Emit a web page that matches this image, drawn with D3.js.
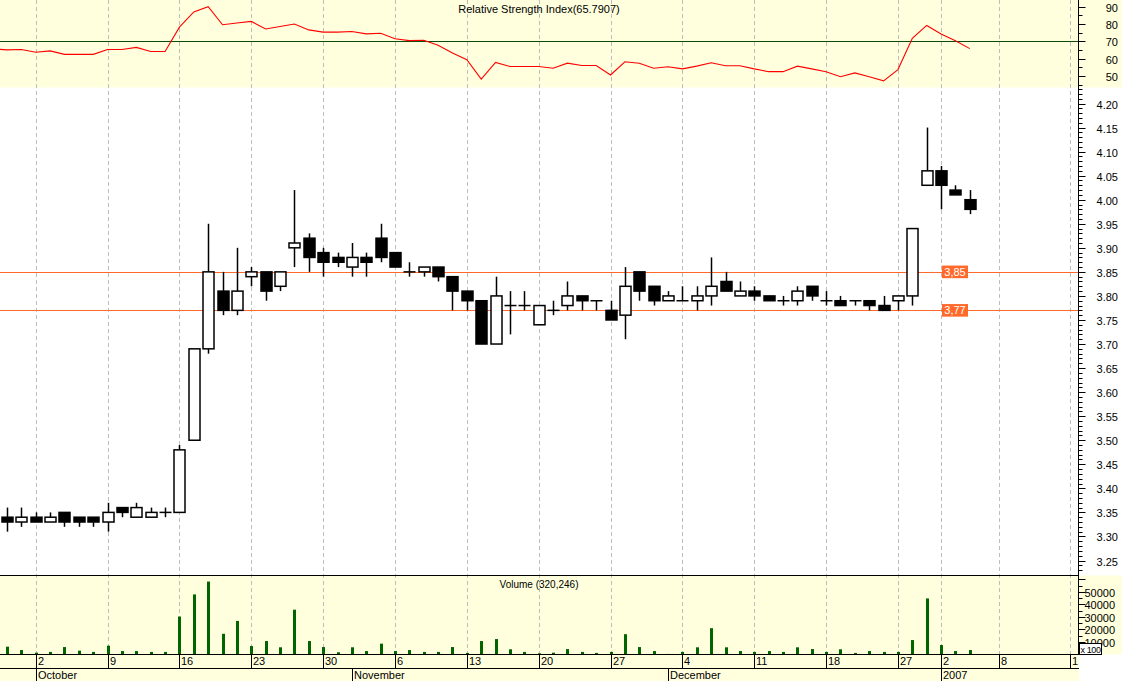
<!DOCTYPE html>
<html><head><meta charset="utf-8">
<script src="https://cdn.jsdelivr.net/npm/d3@7"></script>
<style>
body{margin:0;background:#fff}
svg{display:block}
text{font-family:"Liberation Sans",Arial,sans-serif;fill:#000}
</style>
</head><body>
<svg id="chart" width="1122" height="681"></svg>
<script>
// ---------- data ----------
const dates = ["2006-09-28","2006-09-29","2006-10-02","2006-10-03","2006-10-04","2006-10-05","2006-10-06",
"2006-10-09","2006-10-10","2006-10-11","2006-10-12","2006-10-13","2006-10-16","2006-10-17","2006-10-18","2006-10-19","2006-10-20",
"2006-10-23","2006-10-24","2006-10-25","2006-10-26","2006-10-27","2006-10-30","2006-10-31","2006-11-01","2006-11-02","2006-11-03",
"2006-11-06","2006-11-07","2006-11-08","2006-11-09","2006-11-10","2006-11-13","2006-11-14","2006-11-15","2006-11-16","2006-11-17",
"2006-11-20","2006-11-21","2006-11-22","2006-11-23","2006-11-24","2006-11-27","2006-11-28","2006-11-29","2006-11-30","2006-12-01",
"2006-12-04","2006-12-05","2006-12-06","2006-12-07","2006-12-08","2006-12-11","2006-12-12","2006-12-13","2006-12-14","2006-12-15",
"2006-12-18","2006-12-19","2006-12-20","2006-12-21","2006-12-22","2006-12-27","2006-12-28","2006-12-29",
"2007-01-02","2007-01-03","2007-01-04"];
const futureDays = ["2007-01-05","2007-01-08","2007-01-09","2007-01-10","2007-01-11","2007-01-12","2007-01-15"];

const open  = [3.34,3.33,3.34,3.33,3.35,3.34,3.34, 3.33,3.36,3.34,3.34,3.35, 3.35,3.50,3.69,3.81,3.77,
3.84,3.85,3.82,3.90,3.92, 3.89,3.88,3.86,3.88,3.92, 3.89,3.85,3.85,3.86,3.84, 3.81,3.79,3.70,3.78,3.78,
3.74,3.77,3.78,3.80,3.79, 3.77,3.76,3.85,3.82,3.79, 3.79,3.79,3.80,3.83,3.80, 3.81,3.80,3.79,3.79,3.82,
3.79,3.79,3.79,3.79,3.78, 3.79,3.80,4.03, 4.06,4.02,4.00];
const high  = [3.36,3.36,3.35,3.35,3.35,3.34,3.34, 3.37,3.36,3.37,3.36,3.36, 3.49,3.69,3.95,3.85,3.90,
3.86,3.85,3.85,4.02,3.93, 3.90,3.89,3.91,3.89,3.95, 3.89,3.87,3.86,3.86,3.84, 3.81,3.79,3.84,3.81,3.81,
3.78,3.79,3.83,3.80,3.79, 3.79,3.86,3.85,3.82,3.81, 3.82,3.82,3.88,3.85,3.83, 3.82,3.80,3.80,3.82,3.82,
3.81,3.80,3.79,3.79,3.80, 3.80,3.94,4.15, 4.07,4.03,4.02];
const low   = [3.31,3.32,3.33,3.33,3.32,3.32,3.32, 3.31,3.34,3.34,3.34,3.34, 3.35,3.50,3.68,3.76,3.76,
3.82,3.79,3.81,3.86,3.85, 3.84,3.86,3.84,3.84,3.87, 3.86,3.84,3.84,3.83,3.77, 3.77,3.70,3.70,3.72,3.77,
3.74,3.76,3.77,3.77,3.77, 3.75,3.71,3.79,3.78,3.79, 3.79,3.77,3.78,3.81,3.80, 3.79,3.79,3.78,3.78,3.79,
3.78,3.78,3.78,3.77,3.77, 3.77,3.78,4.03, 3.98,4.01,3.97];
const close = [3.33,3.34,3.33,3.34,3.33,3.33,3.33, 3.35,3.35,3.36,3.35,3.35, 3.48,3.69,3.85,3.77,3.81,
3.85,3.81,3.85,3.91,3.88, 3.87,3.87,3.88,3.87,3.88, 3.86,3.85,3.86,3.84,3.81, 3.79,3.70,3.80,3.78,3.78,
3.78,3.77,3.80,3.79,3.79, 3.75,3.82,3.81,3.79,3.80, 3.79,3.80,3.82,3.81,3.81, 3.80,3.79,3.79,3.81,3.80,
3.79,3.78,3.79,3.78,3.77, 3.80,3.94,4.06, 4.03,4.01,3.98];
const volume = [6100,3400,1300,1900,5800,2900,1900, 6900,2600,2600,1900,1900, 30200,47900,58200,16400,26700,
6600,10600,5600,35700,10600, 5800,1600,5600,2600,8500, 2600,3400,1900,1900,5800, 1100,10600,12200,4000,1900,
800,1300,4200,1900,1100, 1900,16100,5800,2600,300, 1900,5600,20900,5600,2600, 1900,2600,1900,5600,4200,
1900,4000,1100,2600,1900, 1900,11400,44700, 7400,2600,3400];
// RSI of the session before the first visible candle (2006-09-27), then one value per candle
const rsiPrevious = 65.6;
const rsi = [65.1,65.3,63.7,64.5,62.5,62.5,62.5, 65.3,65.3,66.5,64.1,64.1, 78.2,87.0,90.0,79.6,80.6,
81.5,77.1,78.6,80.0,76.6, 75.3,75.3,75.7,74.3,74.7, 71.5,70.4,70.6,67.8,63.3, 59.4,48.2,57.8,55.5,55.5,
55.5,54.5,57.4,56.1,56.1, 50.6,58.2,57.4,54.5,55.3, 54.1,55.7,57.6,55.9,55.9, 54.1,52.5,52.5,55.7,54.1,
52.5,49.6,51.8,49.6,47.2, 53.7,71.8,79.2, 74.3,70.4,65.79];

const priceTicks  = [3.25,3.30,3.35,3.40,3.45,3.50,3.55,3.60,3.65,3.70,3.75,3.80,3.85,3.90,3.95,4.00,4.05,4.10,4.15,4.20];
const rsiTicks    = [50,60,70,80,90];
const volumeTicks = [10000,20000,30000,40000,50000];
const dayTickDates  = ["2006-10-02","2006-10-09","2006-10-16","2006-10-23","2006-10-30","2006-11-06","2006-11-13",
"2006-11-20","2006-11-27","2006-12-04","2006-12-11","2006-12-18","2006-12-27","2007-01-02","2007-01-08","2007-01-15"];
const dayTickLabels = ["2","9","16","23","30","6","13","20","27","4","11","18","27","2","8","1"];
const monthStarts = ["2006-10-02","2006-11-01","2006-12-01","2007-01-02"];
const monthLabels = ["October","November","December","2007"];
const levels      = [3.85,3.77];
const levelLabels = ["3,85","3,77"];
const rsiLevel    = 70;
const rsiTitle    = "Relative Strength Index(65.7907)";
const volumeTitle = "Volume (320,246)";

// ---------- layout ----------
const W = 1122, H = 681;
const plotR = 1079;
const rsiTop = 0, rsiBot = 87.5;
const mainTop = 87.5, mainBot = 575.5;
const volTop = 575.5, volBot = 654.5;
const dayRowBot = 668.5;
const YELLOW = "#FFFFDD";
const ORANGE = "#FF6A2A";

const svg = d3.select("#chart");
const calendar = dates.concat(futureDays);
const idx = d => calendar.indexOf(d);

const x = d3.scaleLinear().domain([0, 74]).range([7, 1070.4]);
const yP = d3.scaleLinear().domain([3.25, 4.20]).range([560.5, 103.5]);
const yR = d3.scaleLinear().domain([50, 90]).range([76, 6.7]);
const yV = d3.scaleLinear().domain([0, 50000]).range([654.3, 591.8]);

// backgrounds
svg.append("rect").attr("x",0).attr("y",0).attr("width",W).attr("height",H).attr("fill","#fff");
svg.append("rect").attr("x",0).attr("y",rsiTop).attr("width",W).attr("height",rsiBot-rsiTop).attr("fill",YELLOW);
svg.append("rect").attr("x",0).attr("y",volTop).attr("width",W).attr("height",volBot-volTop).attr("fill",YELLOW);
svg.append("rect").attr("x",0).attr("y",volBot).attr("width",plotR).attr("height",H-volBot).attr("fill",YELLOW);

// vertical dashed grid
svg.append("g").selectAll("line").data(dayTickDates).join("line")
  .attr("x1", d => Math.round(x(idx(d)))+0.5).attr("x2", d => Math.round(x(idx(d)))+0.5)
  .attr("y1", 0).attr("y2", volBot)
  .attr("stroke","#BDBDBD").attr("stroke-width",1).attr("stroke-dasharray","4,3");

// RSI panel
const rsiClip = svg.append("clipPath").attr("id","rsiclip").append("rect")
  .attr("x",0).attr("y",0).attr("width",plotR).attr("height",rsiBot);
svg.append("line").attr("x1",0).attr("x2",plotR).attr("y1",Math.round(yR(rsiLevel))+0.5).attr("y2",Math.round(yR(rsiLevel))+0.5)
  .attr("stroke","#0A4A0A").attr("stroke-width",1);
const rsiSeries = [rsiPrevious].concat(rsi);
svg.append("path").datum(rsiSeries).attr("clip-path","url(#rsiclip)")
  .attr("d", d3.line().x((d,i)=>x(i-1)).y(d=>yR(d)))
  .attr("fill","none").attr("stroke","#FF0000").attr("stroke-width",1.1);
svg.append("text").attr("x",539).attr("y",13).attr("text-anchor","middle").attr("font-size",11).text(rsiTitle);

// level lines
svg.append("g").selectAll("line").data(levels).join("line")
  .attr("x1",0).attr("x2",plotR).attr("y1",d=>Math.round(yP(d))+0.5).attr("y2",d=>Math.round(yP(d))+0.5)
  .attr("stroke",ORANGE).attr("stroke-width",1);

// candles
const candles = svg.append("g");
dates.forEach((d,i) => {
  const cx = Math.round(x(i)) + 0.5;
  candles.append("line").attr("x1",cx).attr("x2",cx).attr("y1",yP(high[i])).attr("y2",yP(low[i]))
    .attr("stroke","#000").attr("stroke-width",1.5);
  const top = yP(Math.max(open[i], close[i])), bot = yP(Math.min(open[i], close[i]));
  if (bot - top < 0.5) {
    candles.append("line").attr("x1",cx-6).attr("x2",cx+6).attr("y1",top).attr("y2",top)
      .attr("stroke","#000").attr("stroke-width",1.5);
  } else {
    candles.append("rect").attr("x",cx-5.5).attr("width",11).attr("y",top).attr("height",bot-top)
      .attr("fill", close[i] < open[i] ? "#000" : "#fff").attr("stroke","#000").attr("stroke-width",1.5);
  }
});

// level labels
const lvl = svg.append("g").selectAll("g").data(levels).join("g");
lvl.append("rect").attr("x",942).attr("y",d=>yP(d)-6.3).attr("width",26).attr("height",12.6).attr("fill",ORANGE);
lvl.append("text").attr("x",955).attr("y",d=>yP(d)+4).attr("text-anchor","middle").attr("font-size",11)
  .style("fill","#fff").text((d,i)=>levelLabels[i]);

// volume
svg.append("g").selectAll("rect").data(volume).join("rect")
  .attr("x",(d,i)=>Math.round(x(i))-1).attr("width",3)
  .attr("y",d=>yV(d)).attr("height",d=>yV(0)-yV(d)).attr("fill","#006400");
svg.append("text").attr("x",539).attr("y",588).attr("text-anchor","middle").attr("font-size",10).text(volumeTitle);

// frame lines
svg.append("line").attr("x1",0).attr("x2",plotR).attr("y1",volTop).attr("y2",volTop).attr("stroke","#000");
svg.append("line").attr("x1",0).attr("x2",plotR).attr("y1",volBot).attr("y2",volBot).attr("stroke","#000");
svg.append("line").attr("x1",0).attr("x2",plotR).attr("y1",dayRowBot).attr("y2",dayRowBot).attr("stroke","#000");
svg.append("line").attr("x1",plotR-0.5).attr("x2",plotR-0.5).attr("y1",0).attr("y2",volBot).attr("stroke","#000");

// right axes
const ax = plotR - 0.5;
function ticks(g, scale, major, minor, yMin, yMax) {
  minor.forEach(v => { const y = Math.round(scale(v))+0.5; if (y>yMin && y<yMax)
    g.append("line").attr("x1",ax).attr("x2",ax+4).attr("y1",y).attr("y2",y).attr("stroke","#000"); });
  major.forEach(v => { const y = Math.round(scale(v))+0.5; if (y>yMin && y<yMax)
    g.append("line").attr("x1",ax).attr("x2",ax+7).attr("y1",y).attr("y2",y).attr("stroke","#000"); });
}
const axG = svg.append("g");
// price
const priceMinor = d3.range(322, 424).map(v => v/100);
ticks(axG, yP, priceTicks, priceMinor, mainTop, mainBot);
axG.selectAll("text.p").data(priceTicks).join("text").attr("class","p")
  .attr("x",1118).attr("y",d=>yP(d)+5).attr("text-anchor","end").attr("font-size",11).text(d=>d3.format(".2f")(d));
// rsi
ticks(axG, yR, rsiTicks, [45,55,65,75,85], rsiTop, rsiBot);
axG.selectAll("text.r").data(rsiTicks).join("text").attr("class","r")
  .attr("x",1118).attr("y",d=>yR(d)+5).attr("text-anchor","end").attr("font-size",11).text(d=>d);
// volume
ticks(axG, yV, volumeTicks.concat([60000]), [5000,15000,25000,35000,45000,55000], volTop, volBot);
axG.selectAll("text.v").data(volumeTicks).join("text").attr("class","v")
  .attr("x",1115).attr("y",d=>yV(d)+5).attr("text-anchor","end").attr("font-size",11).text(d=>d);
// x100 box
svg.append("rect").attr("x",1079.5).attr("y",643.5).attr("width",22).attr("height",11).attr("fill","#fff").attr("stroke","#000");
svg.append("text").attr("x",1090.5).attr("y",652.5).attr("text-anchor","middle").attr("font-size",9)
  .attr("letter-spacing","-0.4").text("x 100");

// x axis: day row
const dayG = svg.append("g").selectAll("g").data(dayTickDates).join("g");
dayG.append("line").attr("x1",d=>Math.round(x(idx(d)))+0.5).attr("x2",d=>Math.round(x(idx(d)))+0.5)
  .attr("y1",volBot).attr("y2",dayRowBot).attr("stroke","#000");
dayG.append("text").attr("x",d=>Math.round(x(idx(d)))+2).attr("y",665).attr("font-size",11)
  .text((d,i)=>dayTickLabels[i]);
// month row
const monG = svg.append("g").selectAll("g").data(monthStarts).join("g");
monG.append("line").attr("x1",d=>Math.round(x(idx(d)))+0.5).attr("x2",d=>Math.round(x(idx(d)))+0.5)
  .attr("y1",dayRowBot).attr("y2",H).attr("stroke","#000");
monG.append("text").attr("x",d=>Math.round(x(idx(d)))+2).attr("y",679).attr("font-size",11)
  .text((d,i)=>monthLabels[i]);
</script>
</body></html>
